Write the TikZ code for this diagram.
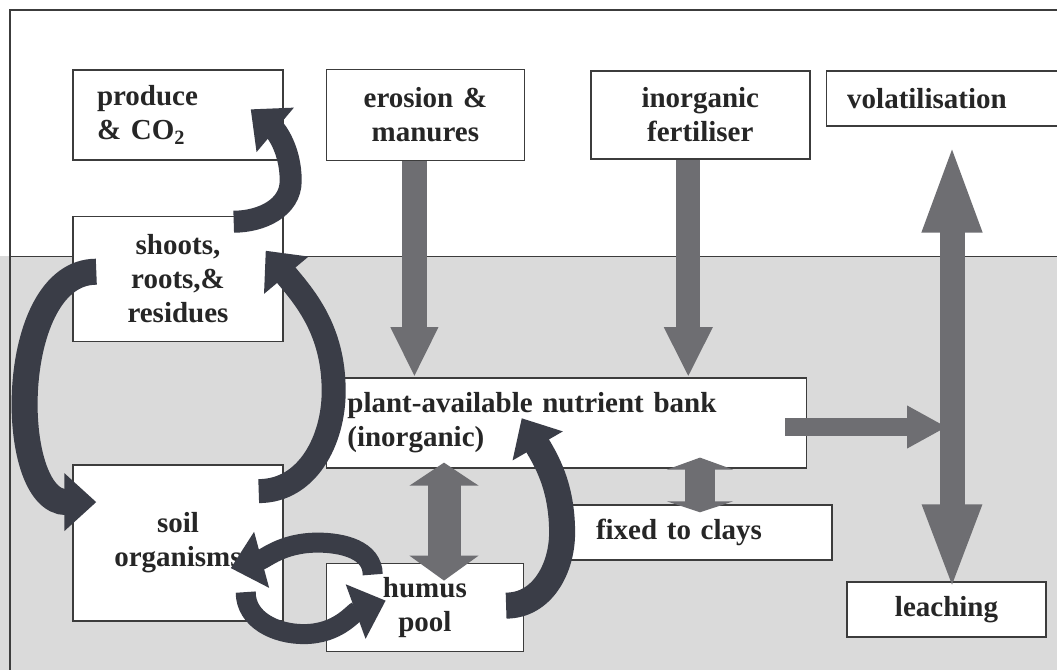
\documentclass[tikz,border=0pt]{standalone}
\usepackage{fontspec}
\setmainfont{Liberation Serif}
\usepackage{tikz}
\usetikzlibrary{arrows.meta,positioning}
\definecolor{arcdark}{HTML}{3A3D47}
\definecolor{flowgray}{HTML}{6E6E72}
\definecolor{soilgray}{HTML}{DADADA}
\definecolor{boxline}{HTML}{3C3C3C}

\begin{document}
\begin{tikzpicture}[
  x=1pt, y=1pt,
  node distance=40pt and 40pt,
  box/.style={rectangle, draw=boxline, line width=1.4pt, fill=white, inner ysep=0pt, text=black!85, font=\fontsize{29}{34}\selectfont\bfseries},
  cbox/.style={box, inner xsep=4pt, align=center},
  lbox/.style={box, align=left},
  flow/.style={draw=flowgray, line width=#1},
  curv/.style={draw=arcdark, line width=#1, -{Triangle[length=32pt,width=56pt]}},
  curv/.default=22pt
]
\useasboundingbox (0,0) rectangle (1057,-670);
% page ground: white above, soil below
\fill[white] (0,0) rectangle (1057,-256);
\fill[soilgray] (0,-256) rectangle (1057,-670);
\draw[boxline, line width=1.2pt] (1057,-10) -- (10,-10) -- (10,-670);
\draw[boxline, line width=1pt] (10,-256) -- (1057,-256);

% boxes
\node[lbox, text width=162pt, inner xsep=24pt, minimum height=90pt] (prod) at (178,-115) {produce\\\& CO\textsubscript{2}};
\node[cbox, text width=190pt, minimum height=91pt, right=42pt of prod] (eros) {erosion \&\\manures};
\node[cbox, text width=211pt, minimum height=88pt, right=65pt of eros] (fert) {inorganic\\fertiliser};
\node[lbox, text width=193pt, inner xsep=21pt, minimum height=55pt, right=15pt of fert.north east, anchor=north west] (vola) {volatilisation};
\node[cbox, text width=202pt, minimum height=125pt, below=55pt of prod] (shoots) {shoots,\\roots,\&\\residues};
\node[cbox, text width=202pt, minimum height=156pt, below=122pt of shoots] (soil) {soil\\organisms};
\node[lbox, text width=438pt, inner xsep=21pt, minimum height=90pt, below=216pt of eros.south west, anchor=north west] (bank) {plant-available nutrient bank\\(inorganic)};
\node[cbox, text width=189pt, minimum height=88pt, below=94pt of bank.south west, anchor=north west] (humus) {humus\\pool};
\node[lbox, text width=205pt, inner xsep=31pt, minimum height=55pt] (clays) at (698.5,-532.5) {fixed to clays};
\node[cbox, text width=191pt, minimum height=55pt] (leach) at (946.5,-609.5) {leaching};

% helper points
\coordinate (erosout) at ([xshift=-11pt]eros.south);
\coordinate (fertout) at ([xshift=-12pt]fert.south);
\coordinate (vx) at (952,-427);
\coordinate (clx) at (700,-485);
\coordinate (hux) at (444,-510);

% grey flows
\draw[flow=25pt, -{Triangle[length=50pt,width=44pt]}] (erosout) -- (erosout |- bank.north);
\draw[flow=24pt, -{Triangle[length=50pt,width=45pt]}] (fertout) -- (fertout |- bank.north);
\draw[flow=18pt, -{Triangle[length=40pt,width=40pt]}, shorten <=-22pt, shorten >=5pt] (bank.east |- vx) -- (vx);
\draw[flow=25pt, {Triangle[length=91pt,width=53pt]}-{Triangle[length=87pt,width=53pt]}, shorten <=15pt, shorten >=-10pt] (vola.south -| vx) -- (leach.north -| vx);
\draw[flow=30pt, {Triangle[length=12pt,width=66pt]}-{Triangle[length=11pt,width=66pt]}, shorten <=-11pt, shorten >=-8pt] (bank.south -| clx) -- (clays.north -| clx);
\draw[flow=33pt, {Triangle[length=23pt,width=68pt]}-{Triangle[length=25pt,width=68pt]}, shorten <=-6pt, shorten >=-18pt] (bank.south -| hux) -- (humus.north -| hux);

% dark curved arrows
\draw[curv] ([shift={(-50pt,-6pt)}]shoots.north east) to[out=0,in=-90] ++(57,41) to[out=90,in=-40] ([shift={(-33pt,-40pt)}]prod.north east);
\draw[curv=26pt] ([shift={(24pt,-56pt)}]shoots.north west) to[out=180,in=180] ([shift={(24pt,-38pt)}]soil.north west);
\draw[curv=24pt] ([shift={(-25pt,-27pt)}]soil.north east) to[out=0,in=-90] ++(75,100) to[out=90,in=-50] ([shift={(-18pt,-35pt)}]shoots.north east);
\draw[curv=20pt] ([shift={(47pt,-12pt)}]humus.north west) to[out=90,in=0] ++(-55,32) to[out=180,in=15] ([shift={(-53pt,-104pt)}]soil.north east);
\draw[curv=20pt] ([shift={(-38pt,-128pt)}]soil.north east) to[out=-90,in=180] ++(58,-42) to[out=0,in=200] ([shift={(60pt,-38pt)}]humus.north west);
\draw[curv=26pt] ([shift={(-18pt,-43pt)}]humus.north east) to[out=0,in=-90] ++(56,73) to[out=90,in=-60] ([shift={(196pt,-41pt)}]bank.north west);
\end{tikzpicture}
\end{document}
